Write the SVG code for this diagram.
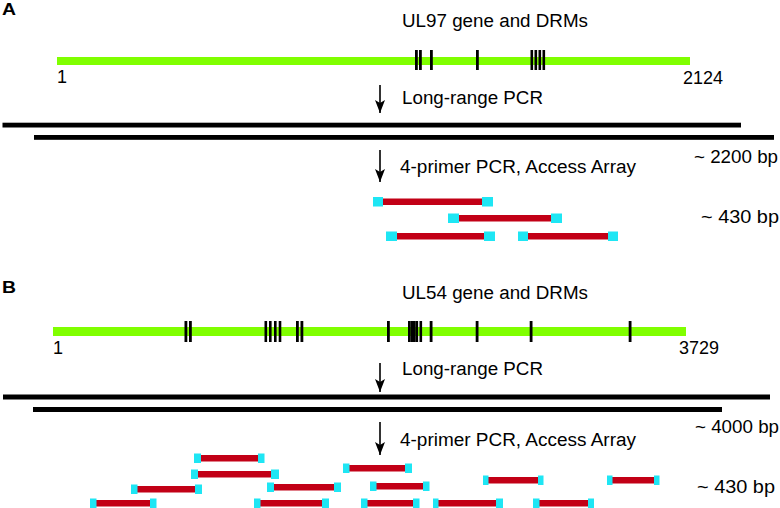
<svg xmlns="http://www.w3.org/2000/svg" width="780" height="508" viewBox="0 0 780 508">
<defs>
<style>
text{font-family:"Liberation Sans",Arial,sans-serif;fill:#000}
.lbl{font-size:18px}
.panel{font-size:16px;font-weight:bold}
.gene{fill:#80ff00}
.tick{fill:#000}
.amp{fill:#000}
.red{fill:#c20016}
.cy{fill:#1ee6f4}
.arr{stroke:#000;stroke-width:1.6;fill:none}
</style>
<marker id="ah" markerWidth="14" markerHeight="10" refX="13" refY="5" orient="auto" markerUnits="userSpaceOnUse" viewBox="0 0 14 10">
<path d="M0,0 L13,5 L0,10 L3,5 Z" fill="#000"/>
</marker>
</defs>
<rect width="780" height="508" fill="#fff"/>

<g id="panelA">
<text class="panel" x="2" y="15" textLength="14" lengthAdjust="spacingAndGlyphs">A</text>
<g id="geneA">
<text class="lbl" x="402" y="27" textLength="186" lengthAdjust="spacingAndGlyphs">UL97 gene and DRMs</text>
<rect class="gene" x="57" y="57" width="633" height="8"/>
<g class="tick">
<rect x="415" y="50" width="2.8" height="20"/>
<rect x="419" y="50" width="2.8" height="20"/>
<rect x="430" y="50" width="2.8" height="20"/>
<rect x="476" y="50" width="2.8" height="20"/>
<rect x="530.5" y="50" width="2.6" height="20"/>
<rect x="534.5" y="50" width="2.6" height="20"/>
<rect x="538.5" y="50" width="2.6" height="20"/>
<rect x="542.5" y="50" width="2.6" height="20"/>
</g>
<text class="lbl" x="57" y="83">1</text>
<text class="lbl" x="683" y="84" textLength="40" lengthAdjust="spacingAndGlyphs">2124</text>
</g>
<g id="lrpcrA">
<text class="lbl" x="402" y="104" textLength="141" lengthAdjust="spacingAndGlyphs">Long-range PCR</text>
<rect class="amp" x="2.5" y="122.7" width="738.5" height="4.8"/>
<rect class="amp" x="34" y="135" width="740" height="4.8"/>
<text class="lbl" x="694" y="163" textLength="84" lengthAdjust="spacingAndGlyphs">~ 2200 bp</text>
</g>
<g id="fragA">
<text class="lbl" x="400" y="173" textLength="236" lengthAdjust="spacingAndGlyphs">4-primer PCR, Access Array</text>
<rect class="red" x="383" y="198.5" width="99" height="6.5"/><rect class="cy" x="373" y="197" width="10" height="9.5"/><rect class="cy" x="482" y="197" width="11" height="9.5"/>
<rect class="red" x="459" y="215" width="92" height="6.5"/><rect class="cy" x="448" y="213.5" width="11" height="9.5"/><rect class="cy" x="551" y="213.5" width="11" height="9.5"/>
<rect class="red" x="397" y="233" width="87" height="6.5"/><rect class="cy" x="386" y="231.5" width="11" height="9.5"/><rect class="cy" x="484" y="231.5" width="11" height="9.5"/>
<rect class="red" x="528" y="233" width="80" height="6.5"/><rect class="cy" x="518" y="231.5" width="10" height="9.5"/><rect class="cy" x="608" y="231.5" width="10" height="9.5"/>
<text class="lbl" x="701" y="223" textLength="78" lengthAdjust="spacingAndGlyphs">~ 430 bp</text>
</g>
</g>

<g id="panelB">
<text class="panel" x="2" y="293" textLength="14" lengthAdjust="spacingAndGlyphs">B</text>
<g id="geneB">
<text class="lbl" x="402" y="299" textLength="186" lengthAdjust="spacingAndGlyphs">UL54 gene and DRMs</text>
<rect class="gene" x="53" y="327" width="633" height="9"/>
<g class="tick">
<rect x="184.5" y="321" width="2.8" height="21"/>
<rect x="189" y="321" width="2.8" height="21"/>
<rect x="264.5" y="321" width="2.6" height="21"/>
<rect x="269" y="321" width="2.6" height="21"/>
<rect x="274" y="321" width="2.6" height="21"/>
<rect x="278.7" y="321" width="2.6" height="21"/>
<rect x="296" y="321" width="2.8" height="21"/>
<rect x="300.5" y="321" width="2.8" height="21"/>
<rect x="387" y="321" width="2.8" height="21"/>
<rect x="408" y="321" width="2.6" height="21"/>
<rect x="410.5" y="321" width="2.6" height="21"/>
<rect x="413" y="321" width="2.6" height="21"/>
<rect x="415.5" y="321" width="2.6" height="21"/>
<rect x="419.5" y="321" width="2.6" height="21"/>
<rect x="429.7" y="321" width="2.8" height="21"/>
<rect x="475.7" y="321" width="2.8" height="21"/>
<rect x="529.7" y="321" width="2.8" height="21"/>
<rect x="628.7" y="321" width="2.8" height="21"/>
</g>
<text class="lbl" x="53" y="354">1</text>
<text class="lbl" x="679" y="354" textLength="40" lengthAdjust="spacingAndGlyphs">3729</text>
</g>
<g id="lrpcrB">
<text class="lbl" x="402" y="375" textLength="141" lengthAdjust="spacingAndGlyphs">Long-range PCR</text>
<rect class="amp" x="3" y="394.5" width="767" height="5"/>
<rect class="amp" x="33" y="407" width="689" height="5"/>
<text class="lbl" x="695" y="433" textLength="84" lengthAdjust="spacingAndGlyphs">~ 4000 bp</text>
</g>
<g id="fragB">
<text class="lbl" x="400" y="446" textLength="236" lengthAdjust="spacingAndGlyphs">4-primer PCR, Access Array</text>
<rect class="red" x="201" y="455" width="57" height="6.5"/><rect class="cy" x="194" y="453.5" width="7" height="9.5"/><rect class="cy" x="258" y="453.5" width="6.5" height="9.5"/>
<rect class="red" x="198" y="471" width="73" height="6.5"/><rect class="cy" x="191" y="469.5" width="7" height="9.5"/><rect class="cy" x="271" y="469.5" width="8" height="9.5"/>
<rect class="red" x="137" y="486" width="58" height="6.5"/><rect class="cy" x="131" y="484.5" width="6.5" height="9.5"/><rect class="cy" x="195" y="484.5" width="7" height="9.5"/>
<rect class="red" x="96" y="500" width="54" height="6.5"/><rect class="cy" x="90" y="498.5" width="6.5" height="9.5"/><rect class="cy" x="150" y="498.5" width="6.5" height="9.5"/>
<rect class="red" x="274" y="484" width="60" height="6.5"/><rect class="cy" x="267" y="482.5" width="7" height="9.5"/><rect class="cy" x="334" y="482.5" width="7" height="9.5"/>
<rect class="red" x="260" y="500" width="62" height="6.5"/><rect class="cy" x="254" y="498.5" width="6.5" height="9.5"/><rect class="cy" x="322" y="498.5" width="7" height="9.5"/>
<rect class="red" x="349" y="465" width="56" height="6.5"/><rect class="cy" x="343" y="463.5" width="6.5" height="9.5"/><rect class="cy" x="405" y="463.5" width="7" height="9.5"/>
<rect class="red" x="376" y="483" width="47" height="6.5"/><rect class="cy" x="370" y="481.5" width="6.5" height="9.5"/><rect class="cy" x="423" y="481.5" width="6.5" height="9.5"/>
<rect class="red" x="367" y="500" width="46" height="6.5"/><rect class="cy" x="361" y="498.5" width="6.5" height="9.5"/><rect class="cy" x="413" y="498.5" width="6.5" height="9.5"/>
<rect class="red" x="488" y="477" width="50" height="6.5"/><rect class="cy" x="483" y="475.5" width="5.5" height="9.5"/><rect class="cy" x="538" y="475.5" width="5.5" height="9.5"/>
<rect class="red" x="612" y="477" width="42" height="6.5"/><rect class="cy" x="607" y="475.5" width="5.5" height="9.5"/><rect class="cy" x="654" y="475.5" width="5.5" height="9.5"/>
<rect class="red" x="438" y="500" width="58" height="6.5"/><rect class="cy" x="433" y="498.5" width="5.5" height="9.5"/><rect class="cy" x="496" y="498.5" width="7" height="9.5"/>
<rect class="red" x="539" y="500" width="49" height="6.5"/><rect class="cy" x="533" y="498.5" width="6.5" height="9.5"/><rect class="cy" x="588" y="498.5" width="6" height="9.5"/>
<text class="lbl" x="697" y="493" textLength="78" lengthAdjust="spacingAndGlyphs">~ 430 bp</text>
</g>
</g>

<g id="connectors">
<line class="arr" x1="380" y1="85" x2="380" y2="113" marker-end="url(#ah)"/>
<line class="arr" x1="380" y1="150" x2="380" y2="182" marker-end="url(#ah)"/>
<line class="arr" x1="380" y1="363" x2="380" y2="392" marker-end="url(#ah)"/>
<line class="arr" x1="380" y1="422" x2="380" y2="455" marker-end="url(#ah)"/>
</g>
</svg>
